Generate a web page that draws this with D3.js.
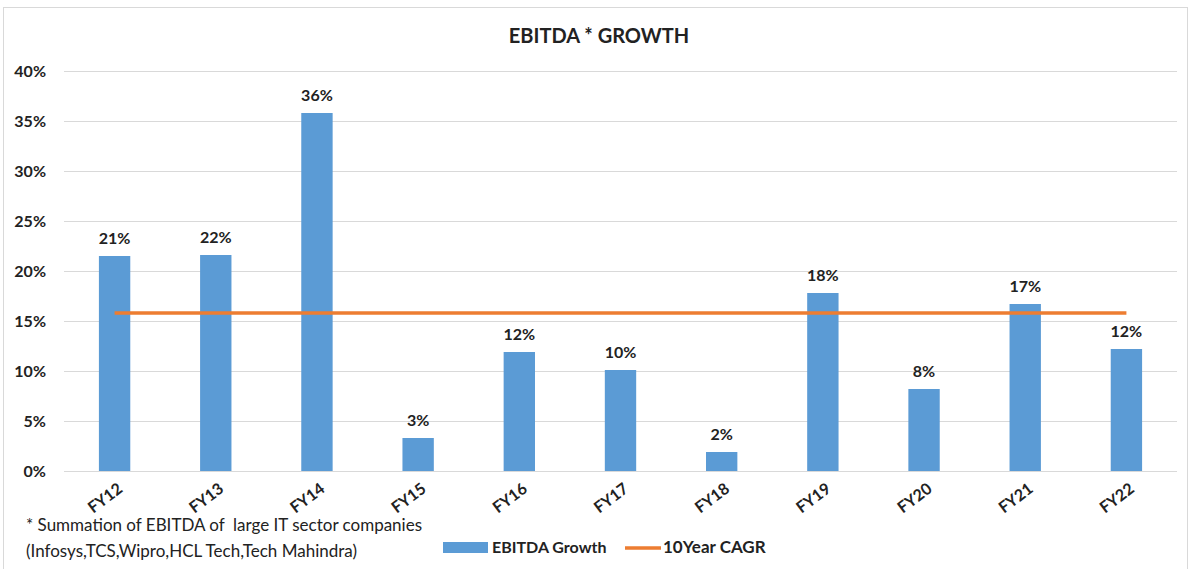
<!DOCTYPE html>
<html>
<head>
<meta charset="utf-8">
<script src="https://cdn.jsdelivr.net/npm/d3@7"></script>
<style>
  body { margin: 0; background: #fff; }
  text { font-family: Lato, "Open Sans", sans-serif; fill: #222; }
</style>
</head>
<body>
<div id="container"></div>
<script>
const WIDTH = 1192;
const HEIGHT = 569;

const years = ["FY12", "FY13", "FY14", "FY15", "FY16", "FY17", "FY18", "FY19", "FY20", "FY21", "FY22"];
const growth = [21.5, 21.6, 35.8, 3.3, 11.9, 10.1, 1.9, 17.8, 8.2, 16.7, 12.2];
const growthLabels = ["21%", "22%", "36%", "3%", "12%", "10%", "2%", "18%", "8%", "17%", "12%"];
const cagr = 15.8;
const yTicks = [0, 5, 10, 15, 20, 25, 30, 35, 40];

const plot = {left: 64, right: 1177, top: 71, bottom: 471};

var translate = function (x, y) {
    return "translate(" + x + "," + y + ")";
};

var svg = d3.select("#container")
    .append("svg")
    .attr("width", WIDTH)
    .attr("height", HEIGHT);

// outer chart border
svg.append("rect")
    .attr("x", 3.5).attr("y", 7.5)
    .attr("width", 1184).attr("height", 570)
    .attr("fill", "none")
    .attr("stroke", "#d9d9d9");

var xScale = d3.scaleBand().domain(years).range([plot.left, plot.right]).paddingInner(0.69).paddingOuter(0.345);
var yScale = d3.scaleLinear().domain([0, 40]).range([plot.bottom, plot.top]);

// title
svg.append("text")
    .attr("x", 599).attr("y", 43)
    .attr("text-anchor", "middle")
    .style("font-size", "20px")
    .style("font-weight", "bold")
    .text("EBITDA * GROWTH");

// grid + y axis
var yAxis = d3.axisLeft(yScale)
    .tickValues(yTicks)
    .tickSize(-(plot.right - plot.left))
    .tickPadding(18)
    .tickFormat(function (d) { return d + "%"; });

var gy = svg.append("g")
    .attr("transform", translate(plot.left, 0))
    .call(yAxis);
gy.select(".domain").remove();
gy.selectAll(".tick line").attr("stroke", "#d9d9d9");
gy.selectAll(".tick text")
    .style("font-size", "16px")
    .style("font-weight", "bold")
    .attr("fill", "#222");

// bars
svg.selectAll("rect.bar").data(growth)
    .enter()
    .append("rect")
    .attr("class", "bar")
    .attr("x", function (d, i) { return xScale(years[i]); })
    .attr("y", function (d) { return yScale(d); })
    .attr("width", xScale.bandwidth())
    .attr("height", function (d) { return yScale(0) - yScale(d); })
    .attr("fill", "#5b9bd5");

// data labels
svg.selectAll("text.lbl").data(growth)
    .enter()
    .append("text")
    .attr("class", "lbl")
    .attr("x", function (d, i) { return xScale(years[i]) + xScale.bandwidth() / 2; })
    .attr("y", function (d) { return yScale(d) - 12; })
    .attr("text-anchor", "middle")
    .style("font-size", "16px")
    .style("font-weight", "bold")
    .text(function (d, i) { return growthLabels[i]; });

// CAGR line
var cagrLine = d3.line()
    .x(function (d) { return xScale(d) + xScale.bandwidth() / 2; })
    .y(function () { return yScale(cagr); });

svg.append("path")
    .attr("d", cagrLine([years[0], years[years.length - 1]]))
    .attr("stroke", "#ed7d31")
    .attr("stroke-width", 3.5)
    .attr("fill", "none");

// x axis labels
var xAxis = d3.axisBottom(xScale).tickSize(0).tickPadding(0);
var gx = svg.append("g")
    .attr("transform", translate(0, plot.bottom))
    .call(xAxis);
gx.select(".domain").remove();
gx.selectAll(".tick text")
    .attr("text-anchor", "end")
    .attr("dy", 0)
    .attr("transform", "translate(9,20) rotate(-37)")
    .style("font-size", "16px")
    .style("font-weight", "bold")
    .attr("fill", "#222");

// footnote
svg.append("text")
    .attr("x", 26).attr("y", 531)
    .attr("xml:space", "preserve")
    .style("font-size", "17px")
    .text("* Summation of EBITDA of  large IT sector companies");
svg.append("text")
    .attr("x", 26).attr("y", 557)
    .style("font-size", "17px")
    .text("(Infosys,TCS,Wipro,HCL Tech,Tech Mahindra)");

// legend
var legend = svg.append("g").attr("transform", translate(443, 548));
legend.append("rect")
    .attr("x", 0).attr("y", -6)
    .attr("width", 45).attr("height", 11)
    .attr("fill", "#5b9bd5");
legend.append("text")
    .attr("x", 49).attr("y", 5)
    .style("font-size", "16px")
    .style("font-weight", "bold")
    .attr("xml:space", "preserve")
    .text("EBITDA Growth");
legend.append("line")
    .attr("x1", 182).attr("x2", 218)
    .attr("y1", 0).attr("y2", 0)
    .attr("stroke", "#ed7d31")
    .attr("stroke-width", 3.5);
legend.append("text")
    .attr("x", 220).attr("y", 5)
    .style("font-size", "17px")
    .style("font-weight", "bold")
    .text("10Year CAGR");
</script>
</body>
</html>
